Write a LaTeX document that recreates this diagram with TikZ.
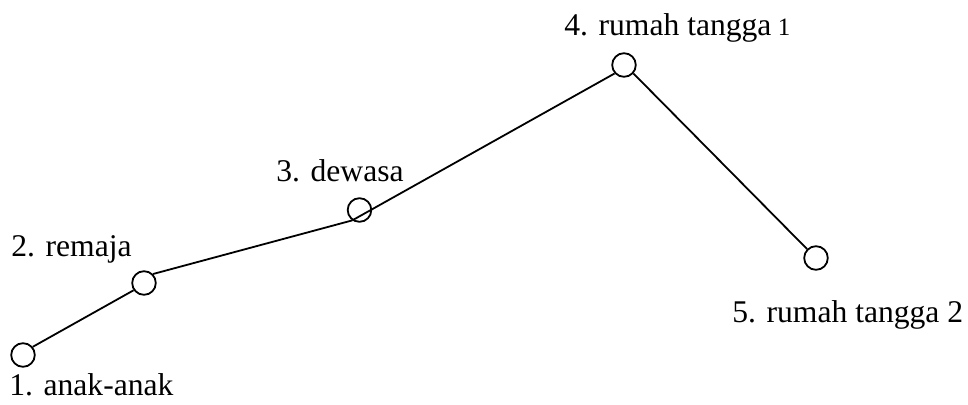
\documentclass[tikz,border=0pt]{standalone}
\usepackage{fontspec}
\setmainfont{Liberation Serif}
\begin{document}
\begin{tikzpicture}[x=0.5pt,y=-0.5pt,
  stage/.style={circle,draw,line width=0.9pt,minimum size=11.8pt,inner sep=0pt},
  lbl/.style={anchor=base west,inner sep=0pt,font=\fontsize{15.8}{18}\selectfont},
  conn/.style={line width=0.9pt}]
\useasboundingbox (0,0) rectangle (968,405);
\node[stage] (c1) at (23,355) {};
\node[stage] (c2) at (144,283) {};
\node[stage] (c3) at (359.5,210) {};
\node[stage] (c4) at (624,65) {};
\node[stage] (c5) at (816,258) {};
\coordinate (p3) at (c3.235);
\draw[conn] (c1.40) -- (c2.215);
\draw[conn] (c2.45) -- (p3);
\draw[conn] (p3) -- (c4.222);
\draw[conn] (c4.318) -- (c5.135);
\node[lbl] (t1) at (9,395) {1. anak-anak};
\node[lbl] (t2) at (11,257) {2. remaja};
\node[lbl] (t3) at (276,182) {3. dewasa};
\node[lbl] (t4) at (564,36) {4. rumah tangga\hspace{0.2em}{\fontsize{12.5}{14}\selectfont 1}};
\node[lbl] (t5) at (732,322) {5. rumah tangga 2};
\end{tikzpicture}
\end{document}
